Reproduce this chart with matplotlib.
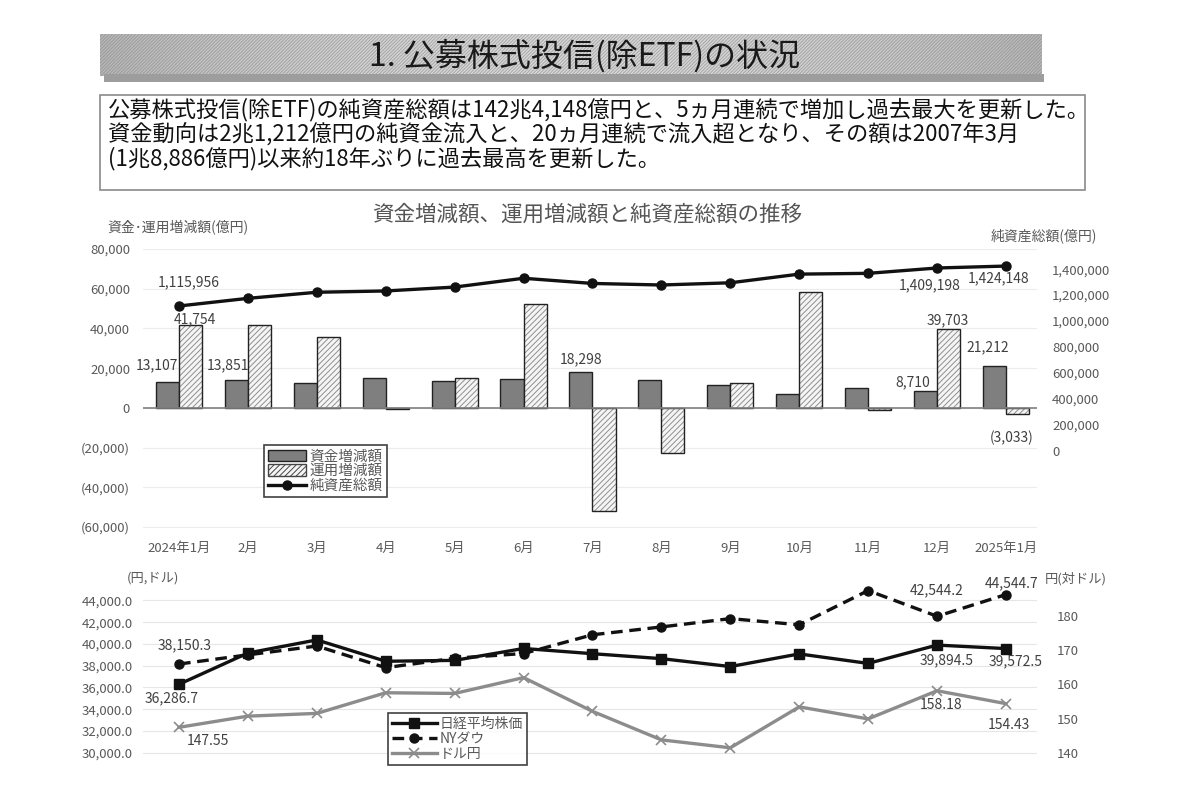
import numpy as np
import matplotlib
matplotlib.use("Agg")
import matplotlib.pyplot as plt
from matplotlib.patches import Rectangle, Patch
from matplotlib.lines import Line2D
from matplotlib.ticker import FuncFormatter, FixedLocator

plt.rcParams['font.family'] = ['Noto Sans CJK JP', 'DejaVu Sans']
plt.rcParams['hatch.linewidth'] = 0.7

# ---------------- data ----------------
months = ["2024年1月", "2月", "3月", "4月", "5月", "6月", "7月", "8月", "9月",
          "10月", "11月", "12月", "2025年1月"]
fund_flow = [13107, 13851, 12650, 14800, 13500, 14300, 18298, 13900, 11500,
             7000, 9800, 8710, 21212]                       # 資金増減額
invest_change = [41754, 41600, 35900, -500, 15000, 52400, -51700, -22500,
                 12300, 58500, -1000, 39703, -3033]          # 運用増減額
net_assets = [1115956, 1175000, 1222000, 1232000, 1262000, 1330000, 1290000,
              1278000, 1295000, 1362000, 1368000, 1409198, 1424148]  # 純資産総額

nikkei = [36286.7, 39166.2, 40369.4, 38405.7, 38487.9, 39583.1, 39101.8,
          38647.8, 37919.6, 39081.3, 38208.0, 39894.5, 39572.5]
nydow = [38150.3, 38996.4, 39807.4, 37815.9, 38686.3, 39118.9, 40842.8,
         41563.1, 42330.2, 41763.5, 44910.7, 42544.2, 44544.7]
usdjpy = [147.55, 150.8, 151.6, 157.6, 157.4, 162.0, 152.2, 143.9, 141.6,
          153.5, 150.0, 158.18, 154.43]

left_ticks_top = [-60000, -40000, -20000, 0, 20000, 40000, 60000, 80000]
right_ticks_top = [0, 200000, 400000, 600000, 800000, 1000000, 1200000, 1400000]
left_ticks_bot = [30000, 32000, 34000, 36000, 38000, 40000, 42000, 44000]
right_ticks_bot = [140, 150, 160, 170, 180]

TXT = '#595959'
W, H = 1200, 800


def fx(px):
    return px / W


def fy(py):
    return 1 - py / H


def P(px):
    return px * 0.72


fig = plt.figure(figsize=(12, 8), dpi=100)
fig.patch.set_facecolor('white')

# ---------------- header / text box ----------------
bg = fig.add_axes([0, 0, 1, 1], zorder=-5)
bg.set_xlim(0, W)
bg.set_ylim(H, 0)
bg.axis('off')
grad_x = np.linspace(-1, 1, 400)
g = 0.72 + 0.13 * (1 - grad_x ** 2)
img = np.tile(g, (20, 1))
bg.imshow(img, cmap='gray', vmin=0, vmax=1, extent=(100, 1042, 76, 34),
          aspect='auto', zorder=1)
bg.add_patch(Rectangle((100, 34), 942, 42, facecolor='none',
                       edgecolor=(0.5, 0.5, 0.5, 0.55), hatch='//////////',
                       lw=0, zorder=2))
bg.add_patch(Rectangle((104, 74), 940, 8, facecolor='#9d9d9d', lw=0, zorder=3))
bg.text(585, 56, "1. 公募株式投信(除ETF)の状況", fontsize=23, ha='center',
        va='center', color='#1a1a1a', zorder=4)

bg.add_patch(Rectangle((100, 95), 985, 95, facecolor='white',
                       edgecolor='#8a8a8a', lw=1.2, zorder=2))
lines = ["公募株式投信(除ETF)の純資産総額は142兆4,148億円と、5ヵ月連続で増加し過去最大を更新した。",
         "資金動向は2兆1,212億円の純資金流入と、20ヵ月連続で流入超となり、その額は2007年3月",
         "(1兆8,886億円)以来約18年ぶりに過去最高を更新した。"]
for i, s in enumerate(lines):
    bg.text(108, 110 + i * 24.5, s, fontsize=16, ha='left', va='center',
            color='#111111', zorder=4)

# ---------------- top chart ----------------
ax = fig.add_axes([fx(143), fy(528), fx(1037) - fx(143), (528 - 249) / H])
x = np.arange(len(months))
w = 0.335
ax.set_xlim(-0.522, 12.45)
ax.set_ylim(-60500, 80000)
ax.bar(x - w / 2, fund_flow, w, color='#7f7f7f', edgecolor='#222222', lw=1.0, zorder=3)
ax.bar(x + w / 2, invest_change, w, color='#f5f5f5', edgecolor='#8f8f8f',
       hatch='//////', lw=0, zorder=3)
ax.bar(x + w / 2, invest_change, w, facecolor='none', edgecolor='#222222',
       lw=1.0, zorder=4)
ax.axhline(0, color='#808080', lw=1.2, zorder=5)
ax.yaxis.set_major_locator(FixedLocator(left_ticks_top))
ax.yaxis.set_major_formatter(FuncFormatter(
    lambda v, p: "0" if v == 0 else (f"{int(v):,}" if v > 0 else f"({int(-v):,})")))
ax.grid(axis='y', color='#ececec', lw=0.8, zorder=0)
ax.set_xticks(x)
ax.set_xticklabels(months)
ax.tick_params(axis='both', length=0, colors=TXT, labelsize=9.5)
ax.tick_params(axis='y', pad=P(13))
ax.tick_params(axis='x', pad=P(14))
for s in ax.spines.values():
    s.set_visible(False)

ax2 = ax.twinx()
ax2.set_ylim(-597200, 1555800)
ax2.plot(x, net_assets, color='#111111', lw=2.4, marker='o', ms=6.5, zorder=6)
ax2.yaxis.set_major_locator(FixedLocator(right_ticks_top))
ax2.yaxis.set_major_formatter(FuncFormatter(lambda v, p: f"{int(v):,}"))
ax2.tick_params(axis='y', length=0, colors=TXT, labelsize=9.5, pad=P(15))
for s in ax2.spines.values():
    s.set_visible(False)

lab_kw = dict(textcoords='offset points', ha='center', va='center',
              fontsize=10, color='#404040', zorder=10)
# bar labels (dx, dy in px)
ax.annotate("13,107", (x[0] - w / 2, fund_flow[0]), xytext=(P(-10.5), P(17)), **lab_kw)
ax.annotate("13,851", (x[1] - w / 2, fund_flow[1]), xytext=(P(-8.5), P(15.5)), **lab_kw)
ax.annotate("18,298", (x[6] - w / 2, fund_flow[6]), xytext=(P(0), P(12)), **lab_kw)
ax.annotate("8,710", (x[11] - w / 2, fund_flow[11]), xytext=(P(-13), P(8)), **lab_kw)
ax.annotate("21,212", (x[12] - w / 2, fund_flow[12]), xytext=(P(-7), P(18)), **lab_kw)
ax.annotate("41,754", (x[0] + w / 2, invest_change[0]), xytext=(P(4.5), P(6)), **lab_kw)
ax.annotate("39,703", (x[11] + w / 2, invest_change[11]), xytext=(P(-1), P(8.6)), **lab_kw)
ax.annotate("(3,033)", (x[12] + w / 2, invest_change[12]), xytext=(P(-6), P(-24)), **lab_kw)
ax2.annotate("1,115,956", (x[0], net_assets[0]), xytext=(P(10), P(24)), **lab_kw)
ax2.annotate("1,409,198", (x[11], net_assets[11]), xytext=(P(-7), P(-17)), **lab_kw)
ax2.annotate("1,424,148", (x[12], net_assets[12]), xytext=(P(-7), P(-12)), **lab_kw)

fig.text(fx(587), fy(215), "資金増減額、運用増減額と純資産総額の推移", fontsize=15.5,
         ha='center', va='center', color='#555555')
fig.text(fx(107), fy(228), "資金･運用増減額(億円)", fontsize=10, ha='left',
         va='center', color=TXT)
fig.text(fx(1097), fy(236), "純資産総額(億円)", fontsize=10, ha='right',
         va='center', color=TXT)

h_top = [Patch(facecolor='#7f7f7f', edgecolor='#222222', lw=1.0),
         Patch(facecolor='#f5f5f5', edgecolor='#444444', hatch='//////', lw=1.0),
         Line2D([], [], color='#111111', lw=2.4, marker='o', ms=6.5)]
leg = fig.legend(h_top, ["資金増減額", "運用増減額", "純資産総額"], loc='upper left',
                 bbox_to_anchor=(fx(264), fy(445)), fontsize=10.5, frameon=True,
                 fancybox=False, edgecolor='#111111', handlelength=2.6,
                 handleheight=0.8, labelspacing=0.05, borderpad=0.3,
                 handletextpad=0.2, borderaxespad=0)
leg.get_frame().set_linewidth(1.2)
for t in leg.get_texts():
    t.set_color(TXT)

# ---------------- bottom chart ----------------
bx = fig.add_axes([fx(143), fy(765), fx(1037) - fx(143), (765 - 583) / H])
bx.set_xlim(-0.522, 12.45)
bx.set_ylim(28862, 45606)
bx.plot(x, nikkei, color='#111111', lw=2.4, marker='s', ms=6.5, zorder=5)
bx.plot(x, nydow, color='#111111', lw=2.4, ls=(0, (3.5, 2)), marker='o', ms=6.5,
        zorder=5)
bx.yaxis.set_major_locator(FixedLocator(left_ticks_bot))
bx.yaxis.set_major_formatter(FuncFormatter(lambda v, p: f"{v:,.1f}"))
bx.grid(axis='y', color='#e6e6e6', lw=0.8, zorder=0)
bx.set_xticks([])
bx.tick_params(axis='y', length=0, colors=TXT, labelsize=9.5, pad=P(10))
for s in bx.spines.values():
    s.set_visible(False)

bx2 = bx.twinx()
bx2.set_ylim(136.6, 189.5)
bx2.plot(x, usdjpy, color='#8c8c8c', lw=2.4, marker='x', ms=7, mew=1.2, zorder=4)
bx2.yaxis.set_major_locator(FixedLocator(right_ticks_bot))
bx2.yaxis.set_major_formatter(FuncFormatter(lambda v, p: f"{int(v)}"))
bx2.tick_params(axis='y', length=0, colors=TXT, labelsize=9.5, pad=P(20))
for s in bx2.spines.values():
    s.set_visible(False)

bx.annotate("38,150.3", (x[0], nydow[0]), xytext=(P(6), P(19)), **lab_kw)
bx.annotate("36,286.7", (x[0], nikkei[0]), xytext=(P(-7), P(-14)), **lab_kw)
bx.annotate("42,544.2", (x[11], nydow[11]), xytext=(P(0), P(26)), **lab_kw)
bx.annotate("44,544.7", (x[12], nydow[12]), xytext=(P(6), P(11)), **lab_kw)
bx.annotate("39,894.5", (x[11], nikkei[11]), xytext=(P(10), P(-15)), **lab_kw)
bx.annotate("39,572.5", (x[12], nikkei[12]), xytext=(P(10), P(-13)), **lab_kw)
bx2.annotate("147.55", (x[0], usdjpy[0]), xytext=(P(29), P(-14)), **lab_kw)
bx2.annotate("158.18", (x[11], usdjpy[11]), xytext=(P(4), P(-14)), **lab_kw)
bx2.annotate("154.43", (x[12], usdjpy[12]), xytext=(P(3), P(-21)), **lab_kw)

fig.text(fx(127), fy(578), "(円,ドル)", fontsize=9.5, ha='left', va='center', color=TXT)
fig.text(fx(1045), fy(579), "円(対ドル)", fontsize=9.5, ha='left', va='center', color=TXT)

h_bot = [Line2D([], [], color='#111111', lw=2.4, marker='s', ms=6.5),
         Line2D([], [], color='#111111', lw=2.4, ls=(0, (3.5, 2)), marker='o', ms=6.5),
         Line2D([], [], color='#8c8c8c', lw=2.4, marker='x', ms=7, mew=1.2)]
leg2 = fig.legend(h_bot, ["日経平均株価", "NYダウ", "ドル円"], loc='upper left',
                  bbox_to_anchor=(fx(388), fy(713)), fontsize=10, frameon=True,
                  fancybox=False, edgecolor='#111111', handlelength=3.2,
                  labelspacing=0.05, borderpad=0.3, handletextpad=0.2,
                  borderaxespad=0)
leg2.get_frame().set_linewidth(1.2)
for t in leg2.get_texts():
    t.set_color(TXT)

fig.savefig("out.png", dpi=100, facecolor='white')
